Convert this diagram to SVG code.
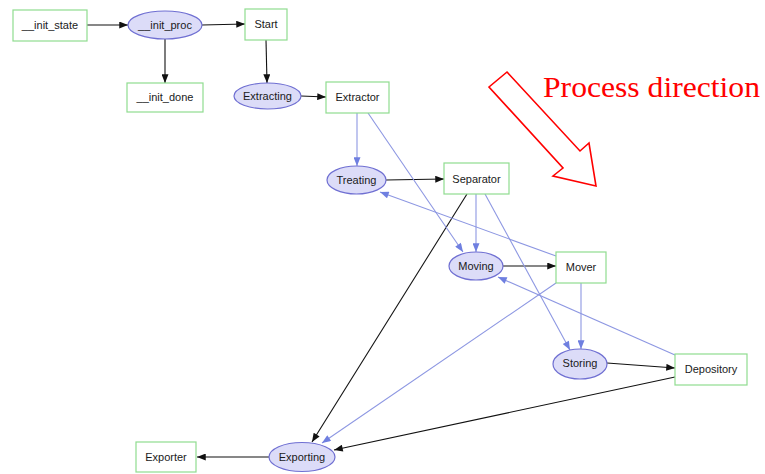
<svg xmlns="http://www.w3.org/2000/svg" width="765" height="474" viewBox="0 0 765 474">
  <style>
    .state rect { fill: #ffffff; stroke: #8fdc8f; stroke-width: 1.2; }
    .proc ellipse { fill: #dcdcf8; stroke: #6f6fd2; stroke-width: 1.2; }
    .lbl { font-family: "Liberation Sans", Arial, sans-serif; font-size: 11px; fill: #1a1a1a; text-anchor: middle; dominant-baseline: central; }
    .e { fill: none; stroke: #111111; stroke-width: 1.1; marker-end: url(#ah); }
    .b { fill: none; stroke: #8d97e2; stroke-width: 1.1; marker-end: url(#ab); }
  </style>
  <defs>
    <marker id="ah" viewBox="0 0 10 8" refX="10" refY="4" markerWidth="10" markerHeight="7" markerUnits="userSpaceOnUse" orient="auto">
      <path d="M0,0 L10,4 L0,8 Z" fill="#111111"/>
    </marker>
    <marker id="ab" viewBox="0 0 10 8" refX="10" refY="4" markerWidth="10" markerHeight="7" markerUnits="userSpaceOnUse" orient="auto">
      <path d="M0,0 L10,4 L0,8 Z" fill="#6f7fe0"/>
    </marker>
  </defs>
  <rect width="765" height="474" fill="#ffffff"/>

  <!-- connectors -->
  <g id="edges">
    <line class="e" x1="87" y1="25" x2="128" y2="25"/>
    <line class="e" x1="202" y1="25" x2="245" y2="24"/>
    <line class="e" x1="165" y1="39" x2="165" y2="83"/>
    <line class="e" x1="266" y1="40" x2="267" y2="83"/>
    <line class="e" x1="301" y1="96" x2="326" y2="97"/>
    <line class="e" x1="386" y1="180" x2="444" y2="179"/>
    <line class="e" x1="467" y1="194" x2="312" y2="442"/>
    <line class="e" x1="503" y1="266" x2="556" y2="266"/>
    <line class="e" x1="607" y1="363" x2="675" y2="368"/>
    <line class="e" x1="675" y1="377" x2="334" y2="450"/>
    <line class="e" x1="269" y1="457" x2="197" y2="457"/>

    <line class="b" x1="357" y1="113" x2="357" y2="166"/>
    <line class="b" x1="368" y1="113" x2="463" y2="252"/>
    <line class="b" x1="476" y1="194" x2="476" y2="252"/>
    <line class="b" x1="485" y1="194" x2="570" y2="350"/>
    <line class="b" x1="581" y1="283" x2="581" y2="349"/>
    <line class="b" x1="556" y1="256" x2="380" y2="192"/>
    <line class="b" x1="556" y1="283" x2="322" y2="443"/>
    <line class="b" x1="675" y1="355" x2="498" y2="277"/>
  </g>

  <!-- nodes -->
  <g id="n_init_state" class="state"><rect x="13" y="10" width="74" height="31"/><text class="lbl" x="50" y="25">__init_state</text></g>
  <g id="n_init_proc" class="proc"><ellipse cx="165" cy="25" rx="37" ry="14"/><text class="lbl" x="165" y="25">__init_proc</text></g>
  <g id="n_start" class="state"><rect x="245" y="9" width="42" height="31"/><text class="lbl" x="266" y="24">Start</text></g>
  <g id="n_init_done" class="state"><rect x="127" y="83" width="76" height="29"/><text class="lbl" x="165" y="97">__init_done</text></g>
  <g id="n_extracting" class="proc"><ellipse cx="267.5" cy="96" rx="33.5" ry="13"/><text class="lbl" x="267.5" y="96">Extracting</text></g>
  <g id="n_extractor" class="state"><rect x="326" y="82" width="63" height="31"/><text class="lbl" x="357.5" y="97">Extractor</text></g>
  <g id="n_treating" class="proc"><ellipse cx="356.5" cy="180" rx="29.5" ry="14"/><text class="lbl" x="356.5" y="180">Treating</text></g>
  <g id="n_separator" class="state"><rect x="444" y="163" width="65" height="31"/><text class="lbl" x="476.5" y="178.5">Separator</text></g>
  <g id="n_moving" class="proc"><ellipse cx="476" cy="266" rx="27" ry="14"/><text class="lbl" x="476" y="266">Moving</text></g>
  <g id="n_mover" class="state"><rect x="556" y="252" width="50" height="31"/><text class="lbl" x="581" y="267">Mover</text></g>
  <g id="n_storing" class="proc"><ellipse cx="580" cy="364" rx="27" ry="15"/><text class="lbl" x="580" y="363">Storing</text></g>
  <g id="n_depository" class="state"><rect x="675" y="354" width="72" height="31"/><text class="lbl" x="711" y="369">Depository</text></g>
  <g id="n_exporting" class="proc"><ellipse cx="302" cy="457" rx="33" ry="14.5"/><text class="lbl" x="302" y="457">Exporting</text></g>
  <g id="n_exporter" class="state"><rect x="136" y="442" width="60" height="30"/><text class="lbl" x="166" y="457">Exporter</text></g>

  <!-- flow direction hint -->
  <g id="direction">
    <polygon points="507,72 489,87 563,168 553,176 596,186 589,143 580,151" fill="none" stroke="#ff0000" stroke-width="1.6" stroke-linejoin="miter"/>
    <text x="543" y="97" font-family="'Liberation Serif', 'Times New Roman', serif" font-size="30" fill="#ff0000" textLength="217" lengthAdjust="spacingAndGlyphs">Process direction</text>
  </g>
</svg>
